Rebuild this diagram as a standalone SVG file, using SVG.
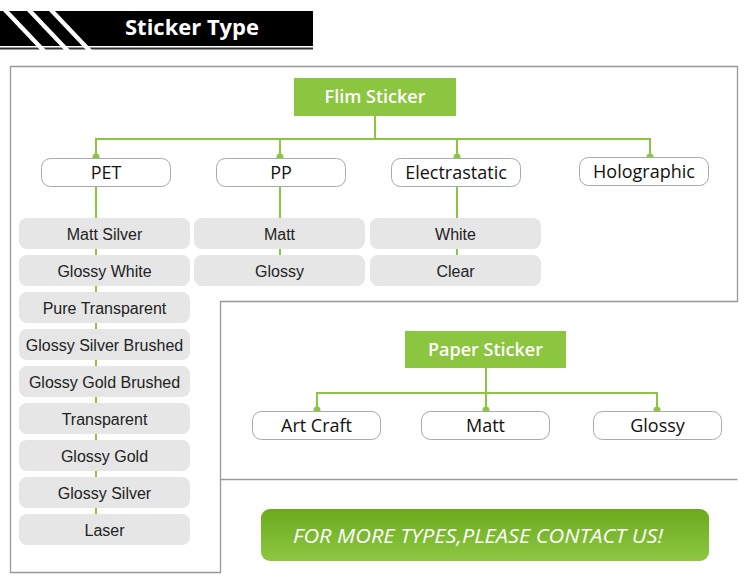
<svg xmlns="http://www.w3.org/2000/svg" width="750" height="585" viewBox="0 0 750 585">
<defs>
<style>
.frame{fill:none;stroke:#999;stroke-width:1.3}
.cat{fill:#8cc540}
.catt{font-family:"Open Sans","DejaVu Sans",sans-serif;font-weight:600;font-size:18px;fill:#fff;text-anchor:middle}
.n1{fill:#fff;stroke:#aaa;stroke-width:1}
.n1t{font-family:"Open Sans","DejaVu Sans",sans-serif;font-size:18px;fill:#111;text-anchor:middle}
.n2{fill:#e6e6e6}
.n2t{font-family:"Liberation Sans",Arial,sans-serif;font-size:16px;fill:#222;text-anchor:middle}
.ln{fill:none;stroke:#8cc540;stroke-width:2}
.dot{fill:#8cc540}
</style>
<linearGradient id="btn" x1="0" y1="0" x2="0" y2="1">
<stop offset="0" stop-color="#6aaa1c"/>
<stop offset="1" stop-color="#8dc742"/>
</linearGradient>
</defs>
<rect width="750" height="585" fill="#fff"/>
<g id="header">
<rect x="0" y="11" width="313" height="35" fill="#000"/>
<line x1="0" y1="48.5" x2="313" y2="48.5" stroke="#333" stroke-width="2"/>
<polygon points="3,11 9,11 46,50 40,50" fill="#fff"/>
<polygon points="27,11 33,11 70,50 64,50" fill="#fff"/>
<polygon points="49,11 55,11 92,50 86,50" fill="#fff"/>
<text x="192" y="35" font-family="'Open Sans','DejaVu Sans',sans-serif" font-weight="700" font-size="21" fill="#fff" text-anchor="middle" textLength="134" lengthAdjust="spacingAndGlyphs">Sticker Type</text>
</g>
<g id="frames">
<polygon class="frame" points="10.5,66.5 737.5,66.5 737.5,301.5 220.5,301.5 220.5,572.5 10.5,572.5"/>
<line class="frame" x1="220.5" y1="479.5" x2="737.5" y2="479.5"/>
</g>
<g id="connectors">
<polyline class="ln" points="375,116 375,139"/>
<polyline class="ln" points="96,157 96,139 650,139 650,157"/>
<line class="ln" x1="280" y1="139" x2="280" y2="157"/>
<line class="ln" x1="457" y1="139" x2="457" y2="157"/>
<line class="ln" x1="96" y1="186" x2="96" y2="520"/>
<line class="ln" x1="280" y1="186" x2="280" y2="260"/>
<line class="ln" x1="457" y1="186" x2="457" y2="260"/>
<circle class="dot" cx="96" cy="157" r="3.5"/>
<circle class="dot" cx="280" cy="157" r="3.5"/>
<circle class="dot" cx="457" cy="157" r="3.5"/>
<circle class="dot" cx="650" cy="157" r="3.5"/>
<polyline class="ln" points="486,368 486,410"/>
<polyline class="ln" points="317,410 317,393 657,393 657,410"/>
<circle class="dot" cx="317" cy="410" r="3.5"/>
<circle class="dot" cx="486" cy="410" r="3.5"/>
<circle class="dot" cx="657" cy="410" r="3.5"/>
</g>
<g id="flim-sticker"><rect class="cat" x="294" y="78" width="162" height="38"/><text class="catt" x="375" y="103">Flim Sticker</text></g>
<g id="pet"><rect class="n1" x="41.5" y="158.5" width="129" height="28" rx="9"/><text class="n1t" x="106" y="179">PET</text></g>
<g id="pp"><rect class="n1" x="216.5" y="158.5" width="129" height="28" rx="9"/><text class="n1t" x="281" y="179">PP</text></g>
<g id="electrastatic"><rect class="n1" x="391.5" y="158.5" width="129" height="28" rx="9"/><text class="n1t" x="456" y="179">Electrastatic</text></g>
<g id="holographic"><rect class="n1" x="579.5" y="157.5" width="129" height="28" rx="9"/><text class="n1t" x="644" y="178">Holographic</text></g>
<g id="matt-silver"><rect class="n2" x="19" y="218" width="171" height="31" rx="8"/><text class="n2t" x="104.5" y="240">Matt Silver</text></g>
<g id="glossy-white"><rect class="n2" x="19" y="255" width="171" height="31" rx="8"/><text class="n2t" x="104.5" y="277">Glossy White</text></g>
<g id="pure-transparent"><rect class="n2" x="19" y="292" width="171" height="31" rx="8"/><text class="n2t" x="104.5" y="314">Pure Transparent</text></g>
<g id="glossy-silver-brushed"><rect class="n2" x="19" y="329" width="171" height="31" rx="8"/><text class="n2t" x="104.5" y="351">Glossy Silver Brushed</text></g>
<g id="glossy-gold-brushed"><rect class="n2" x="19" y="366" width="171" height="31" rx="8"/><text class="n2t" x="104.5" y="388">Glossy Gold Brushed</text></g>
<g id="transparent"><rect class="n2" x="19" y="403" width="171" height="31" rx="8"/><text class="n2t" x="104.5" y="425">Transparent</text></g>
<g id="glossy-gold"><rect class="n2" x="19" y="440" width="171" height="31" rx="8"/><text class="n2t" x="104.5" y="462">Glossy Gold</text></g>
<g id="glossy-silver"><rect class="n2" x="19" y="477" width="171" height="31" rx="8"/><text class="n2t" x="104.5" y="499">Glossy Silver</text></g>
<g id="laser"><rect class="n2" x="19" y="514" width="171" height="31" rx="8"/><text class="n2t" x="104.5" y="536">Laser</text></g>
<g id="pp-matt"><rect class="n2" x="194" y="218" width="171" height="31" rx="8"/><text class="n2t" x="279.5" y="240">Matt</text></g>
<g id="pp-glossy"><rect class="n2" x="194" y="255" width="171" height="31" rx="8"/><text class="n2t" x="279.5" y="277">Glossy</text></g>
<g id="white"><rect class="n2" x="370" y="218" width="171" height="31" rx="8"/><text class="n2t" x="455.5" y="240">White</text></g>
<g id="clear"><rect class="n2" x="370" y="255" width="171" height="31" rx="8"/><text class="n2t" x="455.5" y="277">Clear</text></g>
<g id="paper-sticker"><rect class="cat" x="405" y="331" width="161" height="37"/><text class="catt" x="485.5" y="356">Paper Sticker</text></g>
<g id="art-craft"><rect class="n1" x="252.5" y="411.5" width="128" height="28" rx="9"/><text class="n1t" x="316.5" y="432">Art Craft</text></g>
<g id="paper-matt"><rect class="n1" x="421.5" y="411.5" width="128" height="28" rx="9"/><text class="n1t" x="485.5" y="432">Matt</text></g>
<g id="paper-glossy"><rect class="n1" x="593.5" y="411.5" width="128" height="28" rx="9"/><text class="n1t" x="657.5" y="432">Glossy</text></g>
<g id="contact">
<rect x="261" y="509" width="448" height="52" rx="9" fill="url(#btn)"/>
<text x="478" y="543" font-family="'Open Sans','DejaVu Sans',sans-serif" font-style="italic" font-size="20" fill="#fff" text-anchor="middle" textLength="370" lengthAdjust="spacingAndGlyphs">FOR MORE TYPES,PLEASE CONTACT US!</text>
</g>
</svg>
